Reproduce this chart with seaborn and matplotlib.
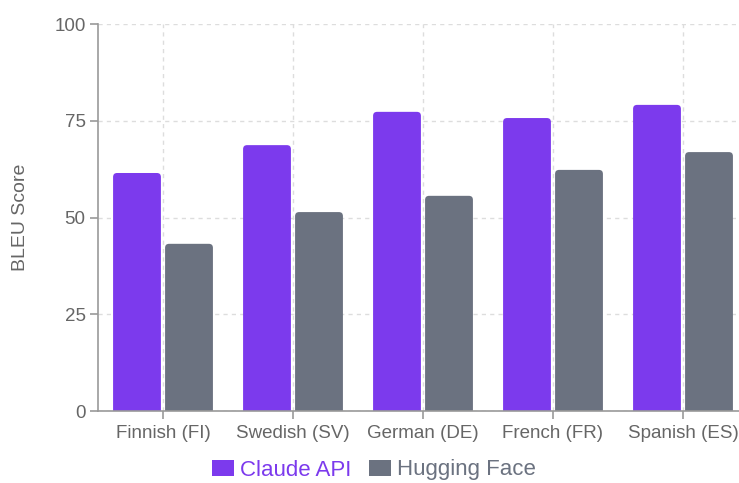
import matplotlib
matplotlib.use("Agg")
import matplotlib.pyplot as plt
from matplotlib.patches import FancyBboxPatch, Patch
import seaborn as sns
import pandas as pd

languages = ["Finnish (FI)", "Swedish (SV)", "German (DE)", "French (FR)", "Spanish (ES)"]
claude_api = [61.5, 68.7, 77.3, 75.7, 79.1]
hugging_face = [43.2, 51.4, 55.6, 62.3, 66.9]
series_names = ["Claude API", "Hugging Face"]
y_ticks = [0, 25, 50, 75, 100]

colors = {"Claude API": "#7C3AED", "Hugging Face": "#6B7280"}

df = pd.DataFrame({
    "Language": languages * 2,
    "Model": [series_names[0]] * len(languages) + [series_names[1]] * len(languages),
    "BLEU": claude_api + hugging_face,
})

sns.set_theme(style="white")
plt.rcParams["font.family"] = ["Liberation Sans", "DejaVu Sans"]

fig = plt.figure(figsize=(7.39, 4.83), dpi=100)
ax = fig.add_axes([98 / 739, 72 / 483, 650 / 739, 387 / 483])

sns.barplot(data=df, x="Language", y="BLEU", hue="Model", palette=colors,
            width=0.8, gap=0.08, ax=ax, legend=False, saturation=1)

ax.set_ylim(0, 100)
ax.set_xlim(-0.5, len(languages) - 0.5)
ax.set_yticks(y_ticks)

# rounded top corners
rx = 4 / 130
ry = 4 / 3.87
for p in list(ax.patches):
    x, y = p.get_x(), p.get_y()
    w, h = p.get_width(), p.get_height()
    fc = p.get_facecolor()
    p.remove()
    fb = FancyBboxPatch((x, y - ry), w, h + ry,
                        boxstyle=f"round,pad=0,rounding_size={rx}",
                        mutation_aspect=ry / rx, facecolor=fc, edgecolor="none",
                        zorder=2)
    ax.add_patch(fb)

ax.grid(True, color="#DDDDDD", linestyle=(0, (3, 3)), linewidth=1)
ax.set_axisbelow(True)
for s in ["top", "right"]:
    ax.spines[s].set_visible(False)
for s in ["left", "bottom"]:
    ax.spines[s].set_color("#999999")
    ax.spines[s].set_linewidth(1.2)

ax.tick_params(axis="both", which="major", length=6, width=1.2, color="#999999",
               labelcolor="#666666", direction="out", bottom=True, left=True)
ax.tick_params(axis="x", labelsize=13.5, pad=4)
ax.tick_params(axis="y", labelsize=13.5, pad=3)
ax.set_xlabel("")
ax.set_ylabel("BLEU Score", fontsize=14, color="#666666", labelpad=18)

handles = [Patch(facecolor=colors[n], edgecolor="none") for n in series_names]
leg = fig.legend(handles, series_names, loc="center", bbox_to_anchor=(374 / 739, 13 / 483),
                 ncol=2, frameon=False, fontsize=16, handlelength=1.0, handleheight=0.7,
                 handletextpad=0.25, columnspacing=0.8)
for t, n in zip(leg.get_texts(), series_names):
    t.set_color(colors[n])

fig.savefig("out.png", dpi=100)
